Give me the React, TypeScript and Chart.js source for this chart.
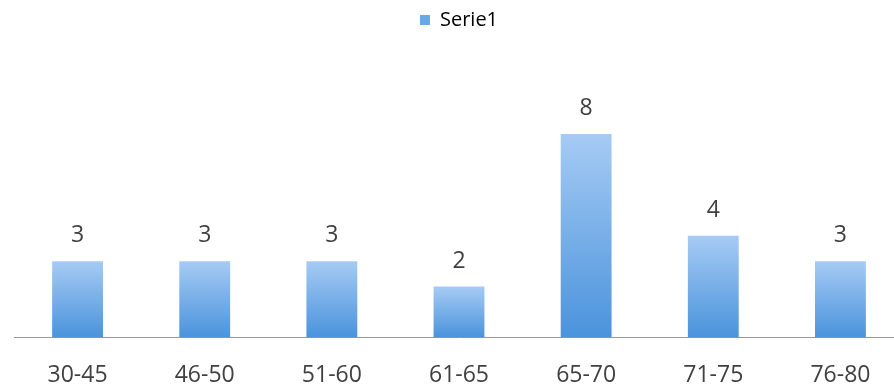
import React, { useEffect, useRef } from "react";
import { Chart, registerables } from "chart.js";

Chart.register(...registerables);

const categories = ["30-45", "46-50", "51-60", "61-65", "65-70", "71-75", "76-80"];
const seriesName = "Serie1";
const values = [3, 3, 3, 2, 8, 4, 3];

const FONT = "'Open Sans', 'Liberation Sans', sans-serif";
const TEXT = "#404040";

const valueLabels = {
  id: "valueLabels",
  afterDatasetsDraw(chart: any) {
    const ctx = chart.ctx;
    const meta = chart.getDatasetMeta(0);
    ctx.save();
    ctx.font = `23px ${FONT}`;
    ctx.fillStyle = TEXT;
    ctx.textAlign = "center";
    ctx.textBaseline = "alphabetic";
    meta.data.forEach((bar: any, i: number) => {
      ctx.fillText(String(values[i]), bar.x, bar.y - 19);
    });
    ctx.restore();
  },
};

function barGradient(context: any) {
  const chart = context.chart;
  const y = chart.scales?.y;
  if (!y || context.type !== "data") return "#6aa7e8";
  const v = values[context.dataIndex];
  const top = y.getPixelForValue(v);
  const bottom = y.getPixelForValue(0);
  const g = chart.ctx.createLinearGradient(0, top, 0, bottom);
  g.addColorStop(0, "#a6cbf4");
  g.addColorStop(1, "#4a93dc");
  return g;
}

export default function App() {
  const ref = useRef<HTMLCanvasElement | null>(null);

  useEffect(() => {
    if (!ref.current) return;
    const chart = new Chart(ref.current, {
      type: "bar",
      data: {
        labels: categories,
        datasets: [
          {
            label: seriesName,
            data: values,
            backgroundColor: barGradient,
            borderWidth: 0,
            categoryPercentage: 1,
            barPercentage: 0.4,
          },
        ],
      },
      options: {
        responsive: false,
        animation: false,
        layout: { padding: { left: 14, right: 0, top: 0, bottom: 6 } },
        plugins: {
          tooltip: { enabled: false },
          legend: {
            position: "top",
            labels: {
              boxWidth: 10,
              boxHeight: 10,
              padding: 10,
              color: "#595959",
              font: { family: FONT, size: 20 },
              generateLabels: () => [
                {
                  text: seriesName,
                  fillStyle: "#6aa7e8",
                  strokeStyle: "#6aa7e8",
                  lineWidth: 0,
                  datasetIndex: 0,
                },
              ],
            },
          },
        },
        scales: {
          x: {
            grid: { display: false },
            border: { display: true, color: "#9a9a9a", width: 1 },
            ticks: {
              color: TEXT,
              padding: 16,
              font: { family: FONT, size: 23 },
            },
          },
          y: {
            display: false,
            min: 0,
            max: 11.7,
          },
        },
      },
      plugins: [valueLabels],
    });
    return () => chart.destroy();
  }, []);

  return (
    <div
      style={{
        position: "fixed",
        left: 0,
        top: 0,
        width: 894,
        height: 386,
        overflow: "hidden",
        background: "#fff",
      }}
    >
      <canvas ref={ref} width={904} height={411} style={{ display: "block" }} />
    </div>
  );
}
